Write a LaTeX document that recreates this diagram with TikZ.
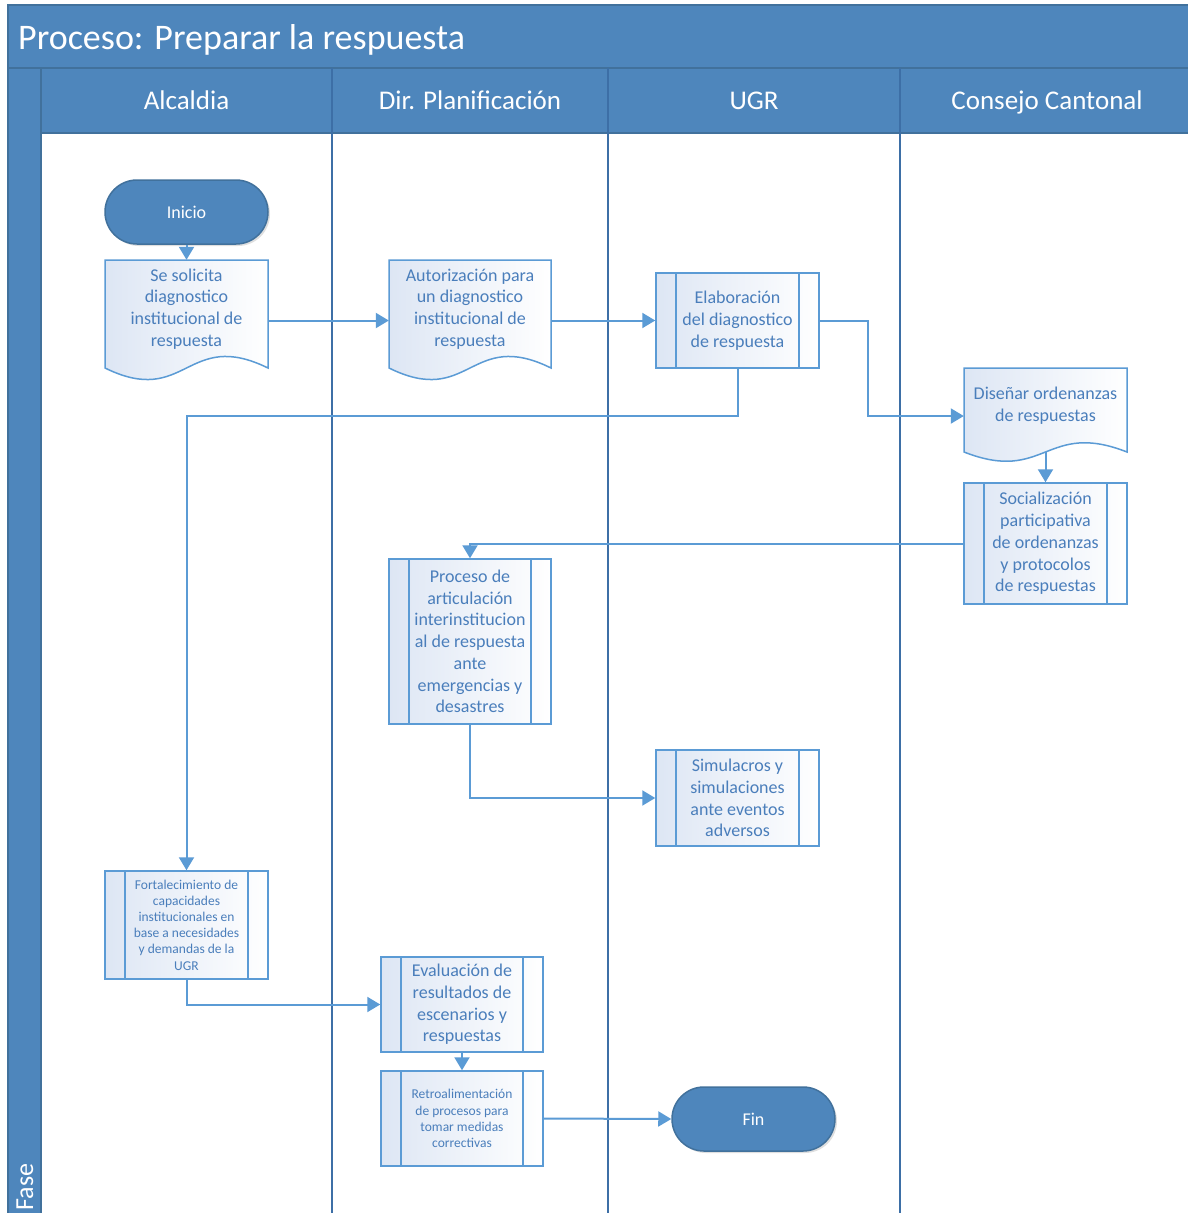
\documentclass[tikz,border=0pt]{standalone}
\usepackage{fontspec}
\setmainfont{Carlito}
\usetikzlibrary{arrows.meta,calc,shadows}
\definecolor{hdr}{HTML}{4E86BC}
\definecolor{hdrline}{HTML}{41719C}
\definecolor{lanel}{HTML}{3D6FA6}
\definecolor{connc}{HTML}{5B9BD5}
\definecolor{nodeb}{HTML}{5B9BD5}
\definecolor{txtc}{HTML}{4A7EBB}
\definecolor{lightc}{HTML}{DDE6F4}
\newcommand{\docpath}[5]{\path[docshape] (#1,#2) -- (#3,#2) -- (#3,#4) .. controls ({#1+0.5*(#3-#1)},{#4-2*#5}) and ({#1+0.5*(#3-#1)},{#4+2*#5}) .. (#1,#4) -- cycle;}
\begin{document}
\begin{tikzpicture}[x=1pt,y=-1pt,
  conn/.style={draw=connc, line width=2pt, -{Triangle[length=13pt,width=15pt]}},
  big/.style={font=\fontsize{18}{21.7}\selectfont},
  small/.style={font=\fontsize{13.5}{16.2}\selectfont},
  proc/.style={draw=nodeb, line width=1.5pt, left color=lightc, right color=white,
    minimum width=163pt, inner sep=0pt, text=txtc, align=center,
    path picture={\draw[nodeb,line width=1.5pt]
      ([xshift=20pt]path picture bounding box.north west) -- ([xshift=20pt]path picture bounding box.south west)
      ([xshift=-20pt]path picture bounding box.north east) -- ([xshift=-20pt]path picture bounding box.south east);}},
  docshape/.style={draw=nodeb, line width=1.5pt, left color=lightc, right color=white},
  doctext/.style={minimum width=163pt, inner sep=0pt, text=txtc, align=center},
  term/.style={draw=hdrline, line width=1.5pt, fill=hdr, rounded corners=32pt,
    minimum width=163pt, minimum height=64pt, text=white, big,
    drop shadow={opacity=0.25, shadow xshift=2pt, shadow yshift=-2pt}},
  hdrtext/.style={text=white, font=\fontsize{27}{32}\selectfont, inner sep=0pt, text height=19pt, text depth=6pt},
]
\useasboundingbox (0,0) rectangle (1187,1213);
\fill[white] (0,0) rectangle (1187,1213);
% pool frame
\draw[fill=hdr, draw=hdrline, line width=1.5pt] (8,5) rectangle (1190,68);
\draw[fill=hdr, draw=hdrline, line width=1.5pt] (8,68) rectangle (41,1216);
\draw[fill=hdr, draw=hdrline, line width=1.5pt] (41,68) rectangle (1190,133);
\foreach \xx in {332,608,900} \draw[lanel, line width=2pt] (\xx,68) -- (\xx,1216);
\node[text=white, font=\fontsize{36}{40}\selectfont, anchor=west, inner sep=0pt, text height=26pt, text depth=8pt] (title) at (18,40) {Proceso: Preparar la respuesta};
\node[text=white, font=\fontsize{26}{30}\selectfont, rotate=90, inner sep=0pt] (fase) at (25,1187) {Fase};
\node[hdrtext] (h1) at (186.5,103) {Alcaldia};
\node[hdrtext] (h2) at (470,103) {Dir. Planificación};
\node[hdrtext] (h3) at (754,103) {UGR};
\node[hdrtext] (h4) at (1047,103) {Consejo Cantonal};

% documents
\docpath{105}{260}{268}{368}{20}
\docpath{389}{260}{551}{368}{20}
\docpath{964}{368}{1127}{452}{16}

% nodes
\node[term] (ini) at (186.5,212) {Inicio};
\node[doctext, big, minimum height=94pt] (d1) at (186.5,309) {Se solicita\\diagnostico\\institucional de\\respuesta};
\node[doctext, big, minimum height=94pt, minimum width=162pt] (d2) at (470,309) {Autorización para\\un diagnostico\\institucional de\\respuesta};
\node[proc, big, minimum height=95pt] (elab) at (737.5,320.5) {Elaboración\\del diagnostico\\de respuesta};
\node[doctext, big, minimum height=74pt] (dis) at (1045.5,406) {Diseñar ordenanzas\\de respuestas};
\node[proc, big, minimum height=121pt] (soc) at (1045.5,543.5) {Socialización\\participativa\\de ordenanzas\\y protocolos\\de respuestas};
\node[proc, big, minimum height=165pt, minimum width=162pt] (art) at (470,641.5) {Proceso de\\articulación\\interinstitucion\\al de respuesta\\ante\\emergencias y\\desastres};
\node[proc, big, minimum height=96pt] (sim) at (737.5,798) {Simulacros y\\simulaciones\\ante eventos\\adversos};
\node[proc, small, minimum height=108pt] (fort) at (186.5,925) {Fortalecimiento de\\capacidades\\institucionales en\\base a necesidades\\y demandas de la\\UGR};
\node[proc, big, minimum height=95pt, minimum width=162pt] (eval) at (462,1004.5) {Evaluación de\\resultados de\\escenarios y\\respuestas};
\node[proc, small, minimum height=95pt, minimum width=162pt] (retro) at (462,1118.5) {Retroalimentación\\de procesos para\\tomar medidas\\correctivas};
\node[term] (fin) at (753.5,1119) {Fin};

% connectors
\draw[conn] (ini.south) -- ($(d1.north)+(0,-2)$);
\draw[conn] (d1.east |- elab.west) -- (d2.west |- elab.west);
\draw[conn] (d2.east |- elab.west) -- (elab.west);
\draw[conn] (elab.east) -- ++(48,0) |- ($(dis.west)+(0,10)$);
\draw[conn] (elab.south) -- ++(0,47.5) -| (fort.north);
\draw[conn] ($(dis.south)+(0,9)$) -- (soc.north);
\draw[conn] (soc.west) -| (art.north);
\draw[conn] (art.south) |- (sim.west);
\draw[conn] (fort.south) |- (eval.west);
\draw[conn] (eval.south) -- (retro.north);
\draw[conn] (retro.east) -- (fin.west);
\end{tikzpicture}
\end{document}
